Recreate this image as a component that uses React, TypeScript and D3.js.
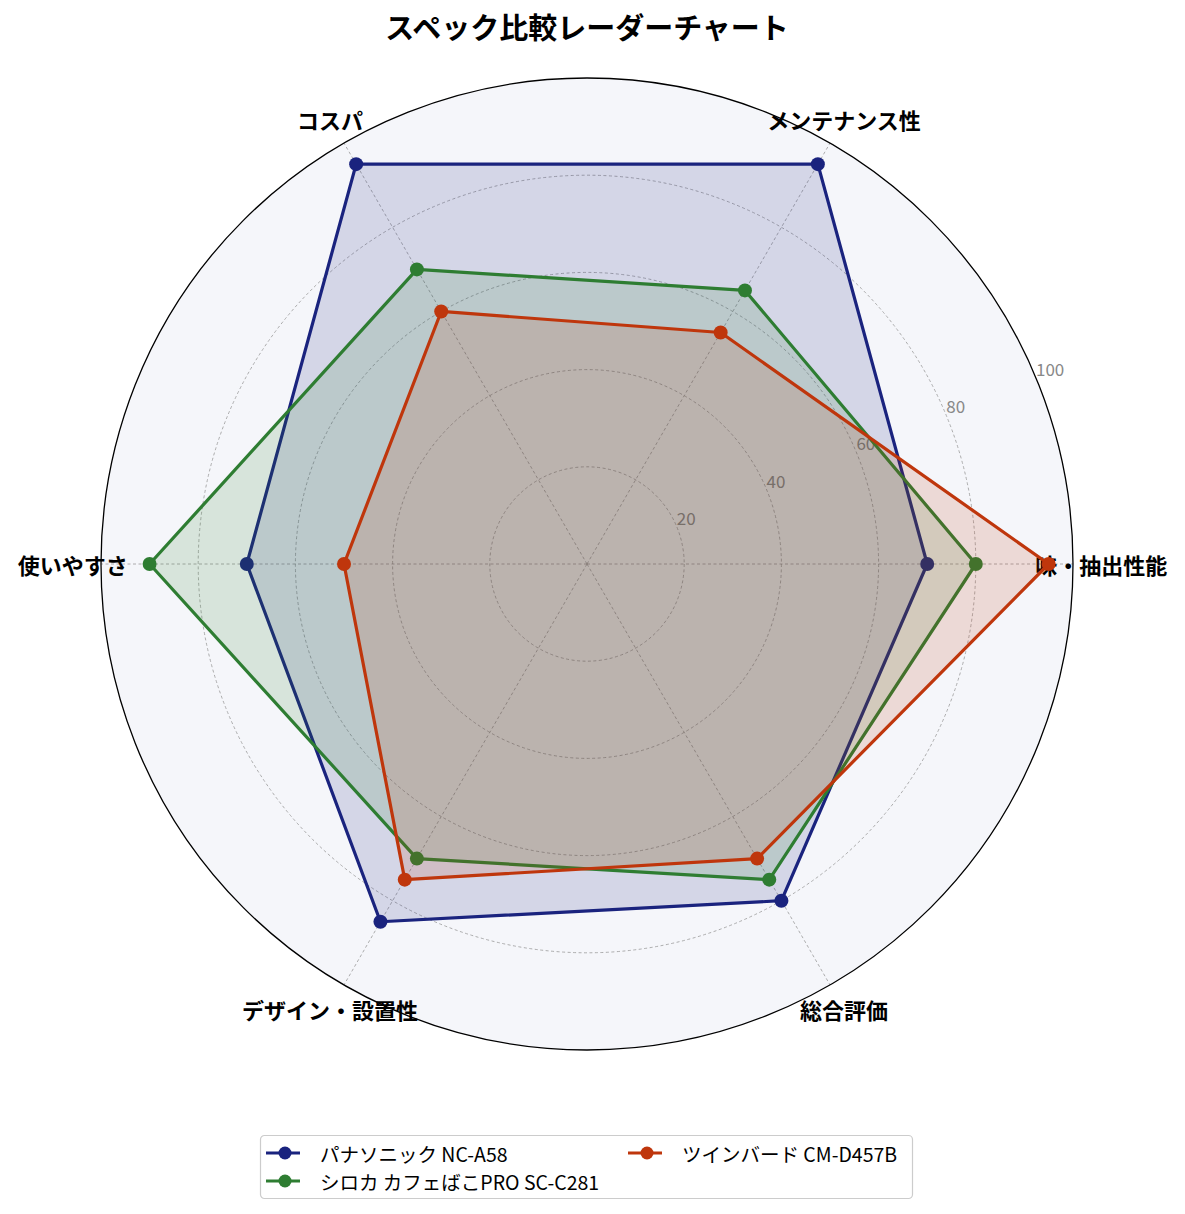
import React, {useEffect, useRef} from "react";
import * as d3 from "d3";

const categories = ["味・抽出性能", "メンテナンス性", "コスパ", "使いやすさ", "デザイン・設置性", "総合評価"];
const seriesNames = ["パナソニック NC-A58", "シロカ カフェばこPRO SC-C281", "ツインバード CM-D457B"];
const panasonic = [70, 95, 95, 70, 85, 80];
const shiroka = [80, 65, 70, 90, 70, 75];
const twinbird = [95, 55, 60, 50, 75, 70];
const colors = ["#1a237e", "#2e7d32", "#bf360c"];
const rTicks = [20, 40, 60, 80, 100];

const FONT = "'Noto Sans CJK JP', 'Noto Sans', sans-serif";

export default function App() {
    const ref = useRef<SVGSVGElement>(null);

    useEffect(() => {
        const cx = 587, cy = 564, R = 486;
        const svg = d3.select(ref.current);
        svg.selectAll("*").remove();

        const r = d3.scaleLinear().domain([0, 100]).range([0, R]);
        const ang = d3.scaleLinear().domain([0, categories.length]).range([0, 2 * Math.PI]);
        // polar -> screen, angle counterclockwise from the right
        const px = (a: number, v: number) => cx + r(v) * Math.cos(a);
        const py = (a: number, v: number) => cy - r(v) * Math.sin(a);

        const g = svg.append("g");

        g.append("circle")
            .attr("cx", cx).attr("cy", cy).attr("r", R)
            .attr("fill", "#f5f6fa");

        // grid circles
        g.selectAll("circle.grid")
            .data(rTicks.slice(0, -1))
            .enter()
            .append("circle")
            .attr("class", "grid")
            .attr("cx", cx).attr("cy", cy)
            .attr("r", (d: number) => r(d))
            .attr("fill", "none")
            .attr("stroke", "#999")
            .attr("stroke-width", 0.8)
            .attr("stroke-dasharray", "3,2.5");

        // spokes
        g.selectAll("line.spoke")
            .data(categories)
            .enter()
            .append("line")
            .attr("x1", cx).attr("y1", cy)
            .attr("x2", (_d: string, i: number) => px(ang(i), 100))
            .attr("y2", (_d: string, i: number) => py(ang(i), 100))
            .attr("stroke", "#999")
            .attr("stroke-width", 0.8)
            .attr("stroke-dasharray", "3,2.5");

        // radial tick labels
        const la = 22.5 * Math.PI / 180;
        g.selectAll("text.rtick")
            .data(rTicks)
            .enter()
            .append("text")
            .attr("x", (d: number) => px(la, d))
            .attr("y", (d: number) => py(la, d) - 2)
            .attr("font-family", FONT)
            .attr("font-size", 17)
            .attr("fill", "#888")
            .text((d: number) => d);

        // category labels
        g.selectAll("text.cat")
            .data(categories)
            .enter()
            .append("text")
            .attr("x", (_d: string, i: number) => px(ang(i), 105.8))
            .attr("y", (_d: string, i: number) => py(ang(i), 105.8))
            .attr("text-anchor", "middle")
            .attr("dominant-baseline", "central")
            .attr("font-family", FONT)
            .attr("font-weight", "bold")
            .attr("font-size", 22)
            .attr("fill", "#000")
            .text((d: string) => d);

        // outer spine
        g.append("circle")
            .attr("cx", cx).attr("cy", cy).attr("r", R)
            .attr("fill", "none")
            .attr("stroke", "#000")
            .attr("stroke-width", 1.3);

        const allSeries = [panasonic, shiroka, twinbird];
        const line = d3.lineRadial<number>()
            .angle((_d: number, i: number) => Math.PI / 2 - ang(i))
            .radius((d: number) => r(d))
            .curve(d3.curveLinearClosed);

        const plot = g.append("g").attr("transform", `translate(${cx},${cy})`);
        allSeries.forEach((vals, k) => {
            plot.append("path")
                .attr("d", line(vals))
                .attr("fill", colors[k])
                .attr("fill-opacity", 0.15)
                .attr("stroke", colors[k])
                .attr("stroke-width", 3.2)
                .attr("stroke-linejoin", "round");
            plot.selectAll(`circle.pt${k}`)
                .data(vals)
                .enter()
                .append("circle")
                .attr("cx", (d: number, i: number) => r(d) * Math.cos(ang(i)))
                .attr("cy", (d: number, i: number) => -r(d) * Math.sin(ang(i)))
                .attr("r", 7)
                .attr("fill", colors[k]);
        });

        // title
        svg.append("text")
            .attr("x", cx).attr("y", 39)
            .attr("text-anchor", "middle")
            .attr("font-family", FONT)
            .attr("font-weight", "bold")
            .attr("font-size", 29)
            .text("スペック比較レーダーチャート");

        // legend
        const lg = svg.append("g").attr("transform", "translate(260,1135)");
        lg.append("rect")
            .attr("x", 0.5).attr("y", 0.5)
            .attr("width", 652).attr("height", 63)
            .attr("rx", 4)
            .attr("fill", "#fff")
            .attr("stroke", "#ccc")
            .attr("stroke-width", 1.2);
        const pos = [[0, 0], [0, 1], [1, 0]];
        seriesNames.forEach((name, k) => {
            const ox = pos[k][0] === 0 ? 6 : 368;
            const oy = 18 + pos[k][1] * 28;
            const e = lg.append("g").attr("transform", `translate(${ox},${oy})`);
            e.append("line")
                .attr("x1", 0).attr("x2", 34)
                .attr("y1", 0).attr("y2", 0)
                .attr("stroke", colors[k])
                .attr("stroke-width", 3.2);
            e.append("circle")
                .attr("cx", 19).attr("cy", 0).attr("r", 6.5)
                .attr("fill", colors[k]);
            e.append("text")
                .attr("x", 54).attr("y", 0)
                .attr("dominant-baseline", "central")
                .attr("font-family", FONT)
                .attr("font-size", 19.5)
                .attr("fill", "#000")
                .text(name);
        });
    }, []);

    return (
        <svg ref={ref} width={1185} height={1214} style={{position: "absolute", left: 0, top: 0}}></svg>
    );
}
